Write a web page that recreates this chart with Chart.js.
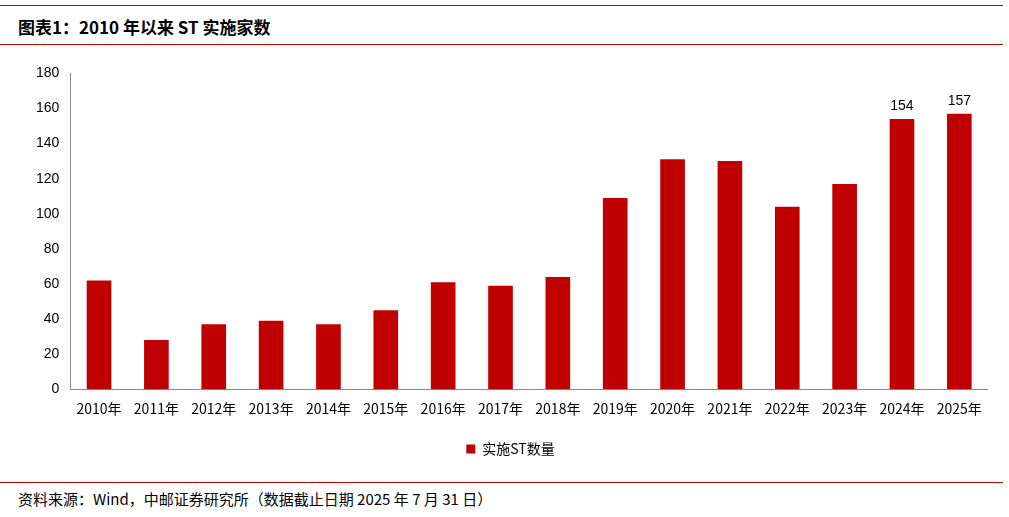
<!DOCTYPE html>
<html><head><meta charset="utf-8">
<script src="https://cdn.jsdelivr.net/npm/chart.js@4/dist/chart.umd.min.js"></script>
<style>
body{margin:0;width:1009px;height:517px;background:#fff;font-family:"Noto Sans CJK SC","Noto Sans",sans-serif;position:relative;overflow:hidden}
.line{position:absolute;left:0;width:1003px;height:1px;background:#c00000}
#title{position:absolute;left:18px;top:14px;font-size:17px;font-weight:bold;color:#000}
#src{position:absolute;left:18px;top:488px;font-size:15px;color:#000}
#wrap{position:absolute;left:33px;top:62px;width:955px;height:404px}
</style></head><body>
<div class="line" style="top:5px"></div>
<div id="title">图表1：2010 年以来 ST 实施家数</div>
<div class="line" style="top:44px"></div>
<div id="wrap"><canvas id="chart"></canvas></div>
<div class="line" style="top:482px"></div>
<div id="src">资料来源：Wind，中邮证券研究所（数据截止日期 2025 年 7 月 31 日）</div>
<script>
// 数据
const years = ['2010年','2011年','2012年','2013年','2014年','2015年','2016年','2017年','2018年','2019年','2020年','2021年','2022年','2023年','2024年','2025年'];
const stCount = [62,28,37,39,37,45,61,59,64,109,131,130,104,117,154,157];
const labelledYears = ['2024年','2025年'];

const labelPlugin = {
  id: 'lastLabels',
  afterDatasetsDraw(chart){
    const ctx = chart.ctx;
    const meta = chart.getDatasetMeta(0);
    ctx.save();
    ctx.font = '14px "Liberation Sans", Arial, sans-serif';
    ctx.fillStyle = '#000';
    ctx.textAlign = 'center';
    ctx.textBaseline = 'bottom';
    meta.data.forEach((bar, i) => {
      if (labelledYears.includes(years[i])) ctx.fillText(stCount[i], bar.x, bar.y - 6);
    });
    ctx.restore();
  }
};

new Chart(document.getElementById('chart'), {
  type: 'bar',
  data: { labels: years, datasets: [{ label: '实施ST数量', data: stCount, backgroundColor: '#c00000', categoryPercentage: 1, barPercentage: 0.43 }] },
  options: {
    responsive: true, maintainAspectRatio: false, animation: false,
    layout: { padding: { top: 8, right: 0 } },
    scales: {
      x: { grid: { display: false }, border: { color: '#888' },
           ticks: { color: '#000', font: { size: 14, family: '"Noto Sans CJK SC", sans-serif' }, maxRotation: 0, autoSkip: false } },
      y: { min: 0, max: 180, grid: { display: false }, border: { color: '#888' },
           ticks: { stepSize: 20, color: '#000', font: { size: 14, family: '"Liberation Sans", Arial, sans-serif' } } }
    },
    plugins: {
      legend: { position: 'bottom', labels: { boxWidth: 9, boxHeight: 9, color: '#000', padding: 22, font: { size: 14, family: '"Noto Sans CJK SC", sans-serif' } } },
      tooltip: { enabled: false }
    }
  },
  plugins: [labelPlugin]
});
</script>
</body></html>
